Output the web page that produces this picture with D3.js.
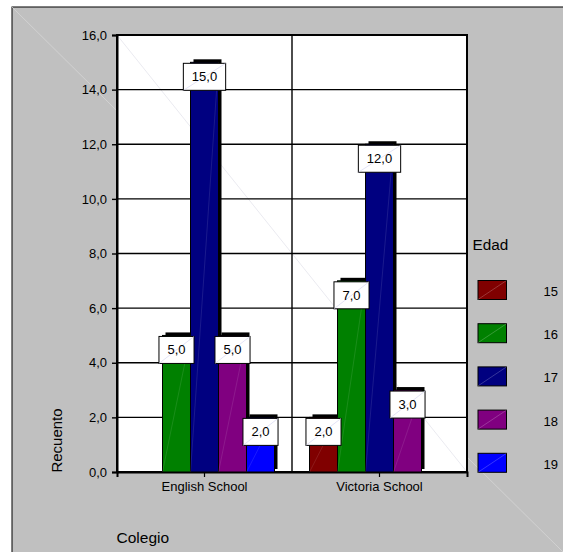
<!DOCTYPE html>
<html>
<head>
<meta charset="utf-8">
<script src="https://cdn.jsdelivr.net/npm/d3@7"></script>
<style>
  html, body { margin: 0; padding: 0; background: #ffffff; }
  svg { display: block; font-family: "Liberation Sans", Arial, sans-serif; }
</style>
</head>
<body>
<svg id="chart" width="563" height="552"></svg>
<script>
// Recuento de alumnos por colegio y edad
const categories = ["English School", "Victoria School"];
const ages = ["15", "16", "17", "18", "19"];
const count15 = [0, 2];
const count16 = [5, 7];
const count17 = [15, 12];
const count18 = [5, 3];
const count19 = [2, 0];
const yTicks = [0, 2, 4, 6, 8, 10, 12, 14, 16];
const ageColors = ["#800000", "#008000", "#000080", "#800080", "#0000ff"];

const seriesValues = [count15, count16, count17, count18, count19];
const records = [];
categories.forEach((c, ci) => {
  ages.forEach((a, ai) => {
    records.push({ colegio: c, edad: a, value: seriesValues[ai][ci] });
  });
});

const locale = d3.formatLocale({ decimal: ",", thousands: ".", grouping: [3], currency: ["", "€"] });
const fmt = locale.format(".1f");

const svg = d3.select("#chart");
const W = 563, H = 552;

// panel background
svg.append("rect").attr("x", 12).attr("y", 7).attr("width", W).attr("height", H)
  .attr("fill", "#c0c0c0").attr("stroke", "#000").attr("stroke-width", 1);
svg.append("line").attr("x1", 12).attr("y1", 7).attr("x2", W).attr("y2", H)
  .attr("stroke", "#d6d6d6").attr("stroke-width", 0.8);

const plot = { left: 117, right: 467, top: 35, bottom: 472 };

const x = d3.scaleBand().domain(categories).range([plot.left, plot.right]).padding(0);
const xa = d3.scaleBand().domain(ages).range([0, x.bandwidth()]).paddingInner(0).paddingOuter(0.625);
const y = d3.scaleLinear().domain([0, 16]).range([plot.bottom, plot.top]);
const color = d3.scaleOrdinal().domain(ages).range(ageColors);

// plot area
svg.append("rect").attr("x", plot.left).attr("y", plot.top)
  .attr("width", plot.right - plot.left).attr("height", plot.bottom - plot.top)
  .attr("fill", "#ffffff");
svg.append("line").attr("x1", plot.left).attr("y1", plot.top).attr("x2", plot.right).attr("y2", plot.bottom)
  .attr("stroke", "#e4e4ec").attr("stroke-width", 0.8);

// horizontal grid
svg.append("g").selectAll("line").data(yTicks).join("line")
  .attr("x1", plot.left).attr("x2", plot.right)
  .attr("y1", d => y(d)).attr("y2", d => y(d))
  .attr("stroke", "#000").attr("stroke-width", 1.4);

// category divider
svg.append("line").attr("x1", x(categories[1])).attr("x2", x(categories[1]))
  .attr("y1", plot.top).attr("y2", plot.bottom).attr("stroke", "#000").attr("stroke-width", 1.4);

// y axis
const yAxis = d3.axisLeft(y).tickValues(yTicks).tickFormat(fmt).tickSize(5).tickPadding(5);
const gy = svg.append("g").attr("transform", `translate(${plot.left},0)`).call(yAxis);
gy.select(".domain").attr("stroke", "#000").attr("stroke-width", 2);
gy.selectAll(".tick line").attr("stroke", "#000").attr("stroke-width", 1.4);
gy.selectAll(".tick text").attr("font-size", 13).attr("fill", "#000")
  .attr("font-family", "Liberation Sans, Arial, sans-serif");

// x axis
const xAxis = d3.axisBottom(x).tickSize(5).tickPadding(4);
const gx = svg.append("g").attr("transform", `translate(0,${plot.bottom})`).call(xAxis);
gx.select(".domain").attr("stroke", "#000").attr("stroke-width", 2);
gx.selectAll(".tick line").attr("stroke", "#000").attr("stroke-width", 1.2);
gx.selectAll(".tick text").attr("font-size", 13).attr("fill", "#000")
  .attr("font-family", "Liberation Sans, Arial, sans-serif").attr("dy", "0.8em");

// frame
svg.append("rect").attr("x", plot.left).attr("y", plot.top)
  .attr("width", plot.right - plot.left).attr("height", plot.bottom - plot.top)
  .attr("fill", "none").attr("stroke", "#000").attr("stroke-width", 2);

// bars
const shown = records.filter(d => d.value > 0);
const bx = d => x(d.colegio) + xa(d.edad);
const bars = svg.append("g");
bars.selectAll("rect.shadow").data(shown).join("rect").attr("class", "shadow")
  .attr("x", d => bx(d) + 3).attr("y", d => y(d.value) - 3)
  .attr("width", xa.bandwidth()).attr("height", d => y(0) - y(d.value))
  .attr("fill", "#000");
bars.selectAll("rect.bar").data(shown).join("rect").attr("class", "bar")
  .attr("x", d => bx(d)).attr("y", d => y(d.value))
  .attr("width", xa.bandwidth()).attr("height", d => y(0) - y(d.value))
  .attr("fill", d => color(d.edad)).attr("stroke", "#000").attr("stroke-width", 1);
bars.selectAll("line.sheen").data(shown).join("line").attr("class", "sheen")
  .attr("x1", d => bx(d)).attr("y1", y(0))
  .attr("x2", d => bx(d) + xa.bandwidth()).attr("y2", d => y(d.value))
  .attr("stroke", "#ffffff").attr("stroke-opacity", 0.15).attr("stroke-width", 0.7);

// value labels
const labels = svg.append("g").selectAll("g").data(shown).join("g")
  .attr("transform", d => `translate(${bx(d) + xa.bandwidth() / 2},${y(d.value) + 1})`);
labels.append("rect").attr("class", "box");
labels.append("text").text(d => fmt(d.value))
  .attr("text-anchor", "middle").attr("y", 13.5).attr("dy", "0.35em")
  .attr("font-size", 13).attr("fill", "#000");
labels.each(function () {
  const g = d3.select(this);
  const w = g.select("text").node().getComputedTextLength() + 17;
  g.select("rect.box").attr("x", -w / 2).attr("y", 0).attr("width", w).attr("height", 27)
    .attr("fill", "#fff").attr("stroke", "#000").attr("stroke-width", 1);
  g.insert("line", "text").attr("x1", -w / 2).attr("y1", 27).attr("x2", w / 2).attr("y2", 0)
    .attr("stroke", "#d0d0f0").attr("stroke-width", 0.6);
});

// axis titles
svg.append("text").attr("transform", "translate(61.5,440.5) rotate(-90)")
  .attr("text-anchor", "middle").attr("font-size", 15).attr("fill", "#000").text("Recuento");
svg.append("text").attr("x", 116.5).attr("y", 543)
  .attr("font-size", 15.5).attr("fill", "#000").text("Colegio");

// legend
const legend = svg.append("g");
legend.append("text").attr("x", 472.5).attr("y", 250).attr("font-size", 15.3).attr("fill", "#000").text("Edad");
const items = legend.selectAll("g.item").data(ages).join("g").attr("class", "item")
  .attr("transform", (d, i) => `translate(478,${280.5 + i * 43.2})`);
items.append("rect").attr("width", 28.5).attr("height", 19)
  .attr("fill", d => color(d)).attr("stroke", "#000").attr("stroke-width", 1);
items.append("line").attr("x1", 0).attr("y1", 19).attr("x2", 28.5).attr("y2", 0)
  .attr("stroke", "#ffffff").attr("stroke-opacity", 0.3).attr("stroke-width", 0.7);
items.append("text").attr("x", 65.5).attr("y", 15.5).attr("font-size", 13).attr("fill", "#000").text(d => d);
</script>
</body>
</html>
